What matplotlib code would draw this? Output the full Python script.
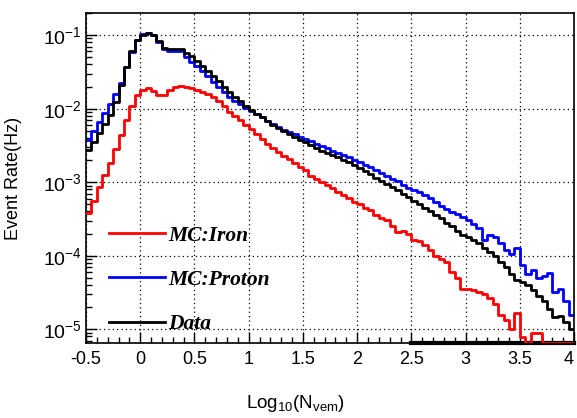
import numpy as np
import matplotlib
matplotlib.use("Agg")
import matplotlib.pyplot as plt
from matplotlib.ticker import MultipleLocator, LogLocator, NullFormatter

# bins: -0.5 .. 4.0 in steps of 0.05
bin_edges = np.round(np.arange(-0.5, 4.0001, 0.05), 3)

# log10(event rate), one value per bin
data_log = [
    -2.56, -2.46, -2.33, -2.21, -2.08, -1.91, -1.68, -1.44, -1.22, -1.07,
    -1.00, -0.975, -1.00, -1.08, -1.17, -1.19, -1.185, -1.19, -1.24, -1.29,
    -1.35, -1.42, -1.49, -1.56, -1.63, -1.70, -1.77, -1.84, -1.90, -1.96,
    -2.02, -2.07, -2.12, -2.17, -2.22, -2.26, -2.30, -2.34, -2.38, -2.42,
    -2.46, -2.50, -2.54, -2.57, -2.60, -2.63, -2.66, -2.70, -2.73, -2.77,
    -2.81, -2.85, -2.89, -2.94, -2.98, -3.03, -3.07, -3.11, -3.16, -3.20,
    -3.25, -3.30, -3.35, -3.39, -3.44, -3.49, -3.55, -3.60, -3.66, -3.72,
    -3.75, -3.78, -3.83, -3.89, -3.95, -4.01, -4.08, -4.16, -4.25, -4.33,
    -4.36, -4.40, -4.47, -4.55, -4.62, -4.72, -4.84, -4.82, -4.90, -5.00,
]
proton_log = [
    -2.42, -2.30, -2.18, -2.06, -1.94, -1.80, -1.65, -1.44, -1.23, -1.07,
    -0.99, -0.97, -1.00, -1.09, -1.19, -1.21, -1.21, -1.22, -1.30, -1.36,
    -1.42, -1.49, -1.56, -1.64, -1.71, -1.78, -1.84, -1.89, -1.94, -1.99,
    -2.03, -2.07, -2.12, -2.17, -2.21, -2.25, -2.29, -2.32, -2.35, -2.38,
    -2.41, -2.44, -2.48, -2.51, -2.54, -2.57, -2.60, -2.63, -2.66, -2.70,
    -2.73, -2.76, -2.79, -2.84, -2.87, -2.92, -2.95, -2.98, -3.04, -3.08,
    -3.10, -3.13, -3.17, -3.22, -3.27, -3.32, -3.37, -3.40, -3.43, -3.48,
    -3.52, -3.57, -3.62, -3.78, -3.72, -3.75, -3.83, -3.92, -3.98, -3.90,
    -4.12, -4.25, -4.20, -4.30, -4.28, -4.24, -4.50, -4.45, -4.62, -4.80,
]
iron_log = [
    -3.42, -3.25, -3.06, -2.90, -2.74, -2.55, -2.36, -2.15, -1.96, -1.82,
    -1.74, -1.72, -1.76, -1.82, -1.81, -1.75, -1.70, -1.69, -1.70, -1.72,
    -1.74, -1.77, -1.80, -1.84, -1.90, -1.97, -2.04, -2.10, -2.16, -2.22,
    -2.28, -2.35, -2.41, -2.48, -2.54, -2.59, -2.64, -2.69, -2.74, -2.79,
    -2.84, -2.91, -2.96, -3.00, -3.04, -3.08, -3.13, -3.18, -3.22, -3.27,
    -3.30, -3.35, -3.38, -3.45, -3.49, -3.52, -3.60, -3.68, -3.66, -3.70,
    -3.78, -3.80, -3.85, -3.92, -4.00, -4.05, -4.08, -4.22, -4.30, -4.45,
    -4.45, -4.46, -4.50, -4.52, -4.58, -4.65, -4.80, -4.88, -5.00, -4.78,
    -5.10, None, -5.05, -5.05, None, None, None, None, None, None,
]

labels = ["MC:Iron", "MC:Proton", "Data"]
colors = ["#ff0000", "#0000ff", "#000000"]
xtick_labels = ["-0.5", "0", "0.5", "1", "1.5", "2", "2.5", "3", "3.5", "4"]

ymin, ymax = 6.5e-6, 0.2


def to_rate(vals):
    # empty bins (None) sit on the bottom of the frame, as in ROOT
    return np.array([ymin if v is None else 10.0 ** v for v in vals])


plt.rcParams['font.family'] = ['Liberation Sans', 'DejaVu Sans']
plt.rcParams['mathtext.fontset'] = 'custom'
plt.rcParams['mathtext.rm'] = 'Liberation Sans'
plt.rcParams['mathtext.it'] = 'Liberation Sans'

fig = plt.figure(figsize=(5.77, 4.18), dpi=100)
ax = fig.add_axes([0.149, 0.1794, 0.846, 0.7895])

series = [iron_log, proton_log, data_log]
handles = []
for vals, lab, col in zip(series, labels, colors):
    r = to_rate(vals)
    h, = ax.step(bin_edges, np.append(r, r[-1]), where="post", color=col, lw=2.0,
                 label=lab)
    handles.append(h)
# drawing order: proton, data, iron on top
handles[1].set_zorder(2)
handles[2].set_zorder(3)
handles[0].set_zorder(4)

ax.set_yscale("log")
ax.set_xlim(-0.5, 4.0)
ax.set_ylim(ymin, ymax)

# thick piece of frame on the right half of the bottom axis
ax.axhline(ymin, xmin=3.0 / 4.5, xmax=1.0, color="black", lw=3.0, zorder=3.5,
           clip_on=False)

ax.set_xticks(np.arange(-0.5, 4.01, 0.5))
ax.set_xticklabels(xtick_labels)
ax.xaxis.set_minor_locator(MultipleLocator(0.1))
ax.get_xticklabels()[-1].set_horizontalalignment("right")
ax.yaxis.set_major_locator(LogLocator(base=10, numticks=10))
ax.yaxis.set_minor_locator(LogLocator(base=10, subs=np.arange(2, 10), numticks=20))
ax.yaxis.set_minor_formatter(NullFormatter())

ax.tick_params(axis="both", which="major", direction="in", length=8, width=1,
               top=False, right=False)
ax.tick_params(axis="x", which="major", labelsize=13, pad=6)
ax.tick_params(axis="y", which="major", labelsize=14, pad=3)
ax.tick_params(axis="both", which="minor", direction="in", length=4, width=1,
               top=False, right=False)

ax.grid(True, which="major", linestyle=(0, (1, 2.5)), color="black", lw=0.9)
ax.set_axisbelow(True)
for sp in ax.spines.values():
    sp.set_linewidth(1.2)

ax.set_ylabel("Event Rate(Hz)", fontsize=13)
ax.yaxis.set_label_coords(-0.131, 0.5)
ax.set_xlabel(r"Log$_{10}$(N$_{\mathrm{vem}}$)", fontsize=13.5)
ax.xaxis.set_label_coords(0.43, -0.15)

leg = ax.legend(handles=handles, loc="lower left", bbox_to_anchor=(0.03, 0.0),
                frameon=False, handlelength=2.6, handletextpad=0.15,
                labelspacing=1.13, borderaxespad=0,
                prop={"family": "Liberation Serif", "weight": "bold",
                      "style": "italic", "size": 15.5})

fig.savefig("out.png", dpi=100)
